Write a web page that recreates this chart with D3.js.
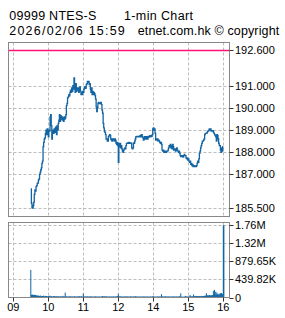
<!DOCTYPE html>
<html>
<head>
<meta charset="utf-8">
<script src="https://cdn.jsdelivr.net/npm/d3@7"></script>
<style>
  body { margin: 0; background: #fff; }
  text { font-family: "Liberation Sans", Arial, sans-serif; fill: #000; }
</style>
</head>
<body>
<svg id="chart" width="285" height="318"></svg>
<script>
// 1-min prices, 09:30-11:59 and 13:00-16:00
var amPrice = [
  186.35, 185.7, 185.5, 185.48, 185.6, 185.75, 186.1, 186.3, 186.25, 186.45,
  186.5, 186.6, 186.62, 186.75, 186.8, 187.0, 187.1, 187.2, 187.3, 187.5,
  187.6, 188.25, 188.45, 188.6, 188.65, 188.85, 189.0, 188.8, 189.05, 188.9,
  188.7, 189.0, 188.95, 189.6, 189.7, 189.2, 188.6, 188.9, 189.0, 188.85,
  189.05, 188.9, 189.1, 189.15, 188.8, 189.2, 189.0, 189.3, 189.45, 189.7,
  189.4, 189.65, 189.5, 189.6, 189.45, 189.55, 189.4, 189.6, 189.5, 189.55,
  189.7, 190.1, 190.2, 190.45, 190.5, 190.6, 190.55, 190.7, 190.8, 190.7,
  190.9, 190.75, 191.0, 190.85, 191.35, 191.0, 190.7, 191.1, 190.75, 190.9,
  190.8, 190.9, 190.7, 190.85, 190.95, 190.75, 190.6, 190.7, 190.6, 190.75,
  190.7, 190.85, 190.95, 190.88, 190.9, 191.05, 191.1, 191.2, 191.15, 191.2,
  191.05, 191.1, 190.85, 190.7, 190.9, 190.6, 190.75, 190.6, 190.7, 190.65,
  190.55, 190.4, 190.05, 189.83, 190.0, 190.2, 190.25, 190.2, 190.22, 190.2,
  190.25, 190.15, 189.9, 189.76, 189.3, 189.1, 188.95, 188.9, 188.8, 188.6,
  188.6, 188.5, 188.5, 188.7, 188.75, 188.8, 188.75, 188.6, 188.55, 188.5,
  188.6, 188.55, 188.6, 188.5, 188.6, 188.55, 188.4, 188.35, 188.45, 188.3
];
var pmPrice = [
  187.55, 188.4, 188.25, 188.4, 188.2, 188.3, 188.15, 188.05, 188.0, 188.1,
  188.15, 188.2, 188.15, 188.3, 188.4, 188.4, 188.42, 188.4, 188.45, 188.42,
  188.4, 188.42, 188.4, 188.2, 188.15, 188.2, 188.42, 188.4, 188.5, 188.6,
  188.7, 188.7, 188.72, 188.7, 188.7, 188.72, 188.7, 188.75, 188.7, 188.78,
  188.8, 188.7, 188.65, 188.55, 188.6, 188.7, 188.65, 188.6, 188.7, 188.65,
  188.6, 188.72, 188.68, 188.7, 188.75, 188.7, 188.75, 188.72, 188.8, 189.05,
  189.1, 189.0, 189.05, 188.85, 188.55, 188.6, 188.55, 188.6, 188.5, 188.55,
  188.5, 188.45, 188.4, 188.45, 188.35, 188.1, 188.05, 188.1, 188.0, 188.05,
  188.0, 188.05, 188.0, 188.05, 188.05, 188.1, 188.2, 188.3, 188.25, 188.35,
  188.2, 188.3, 188.15, 188.35, 188.25, 188.1, 188.15, 188.1, 188.05, 188.15,
  188.2, 188.1, 188.05, 188.0, 188.05, 187.95, 187.85, 187.8, 187.8, 187.85,
  187.8, 187.78, 187.85, 187.9, 187.85, 187.85, 187.75, 187.7, 187.75, 187.65,
  187.7, 187.6, 187.55, 187.6, 187.45, 187.5, 187.4, 187.45, 187.35, 187.4,
  187.35, 187.35, 187.38, 187.35, 187.4, 187.5, 187.6, 187.55, 187.7, 187.95,
  188.05, 188.2, 188.3, 188.4, 188.5, 188.5, 188.55, 188.6, 188.8, 188.85,
  188.85, 188.85, 188.9, 188.95, 188.95, 189.0, 189.05, 189.0, 189.05, 188.95,
  188.97, 188.95, 188.97, 188.9, 188.85, 188.8, 188.75, 188.7, 188.5, 188.8,
  188.75, 188.6, 188.4, 188.3, 188.3, 188.1, 188.0, 188.2, 188.05, 188.25,
  188.25
];
// volume in thousands of shares
var amVol = [
  673, 68, 62, 70, 58, 66, 64, 55, 60, 52,
  45, 50, 38, 48, 42, 35, 40, 47, 33, 28,
  36, 30, 45, 25, 32, 40, 28, 35, 22, 30,
  38, 26, 30, 45, 24, 28, 33, 20, 27, 31,
  25, 36, 22, 28, 30, 18, 26, 24, 32, 20,
  27, 22, 30, 18, 25, 40, 21, 26, 23, 120,
  30, 22, 28, 18, 26, 20, 24, 35, 19, 22,
  25, 17, 28, 20, 23, 30, 18, 24, 21, 26,
  20, 28, 22, 35, 19, 24, 20, 30, 25, 18,
  97, 30, 22, 18, 26, 20, 24, 28, 17, 22,
  25, 18, 30, 22, 20, 26, 17, 24, 21, 19,
  23, 28, 18, 22, 25, 16, 20, 27, 19, 22,
  18, 24, 20, 35, 26, 22, 30, 19, 25, 21,
  28, 20, 24, 18, 22, 26, 17, 23, 20, 25,
  19, 22, 27, 18, 24, 20, 26, 22, 30, 35
];
var pmVol = [
  90, 30, 25, 22, 28, 20, 26, 18, 24, 22,
  20, 25, 18, 30, 22, 19, 26, 21, 24, 17,
  22, 28, 19, 25, 20, 18, 24, 22, 26, 20,
  35, 18, 22, 20, 25, 17, 23, 19, 21, 24,
  18, 22, 20, 26, 19, 23, 17, 25, 20, 22,
  24, 18, 21, 19, 25, 20, 22, 18, 24, 30,
  26, 22, 20, 24, 18, 22, 19, 25, 21, 23,
  20, 24, 18, 26, 80, 30, 22, 25, 20, 24,
  22, 28, 19, 24, 21, 26, 20, 23, 25, 18,
  24, 20, 22, 26, 19, 25, 21, 23, 20, 22,
  25, 20, 22, 24, 21, 28, 21, 100, 20, 18,
  17, 20, 16, 22, 18, 40, 21, 25, 19, 22,
  24, 20, 22, 60, 25, 30, 22, 28, 24, 75,
  35, 30, 28, 40, 32, 36, 30, 38, 34, 30,
  36, 28, 40, 30, 35, 32, 38, 30, 42, 40,
  45, 105, 48, 50, 55, 45, 60, 52, 48, 55,
  50, 62, 58, 163, 65, 187, 68, 140, 72, 120,
  80, 75, 70, 95, 70, 105, 85, 110, 90, 80,
  1759.3
];
var prevClose = 192.6;
var priceTicks = [185.5, 187, 188, 189, 190, 191, 192.6];
var volTicks = [0, 439.82, 879.65, 1319.47, 1759.3];
var volTickLabels = ["0", "439.82K", "879.65K", "1.32M", "1.76M"];
var hourTicks = [9, 10, 11, 12, 14, 15, 16];
var hourLabels = ["09", "10", "11", "12", "14", "15", "16"];

// lunch break removed: 13:00 sits where 12:00 is
function tradeHour(h) { return h >= 13 ? h - 1 : h; }

var data = amPrice.map(function(p, i) {
  return { t: 9.5 + i / 60, price: p, vol: amVol[i] };
}).concat(pmPrice.map(function(p, j) {
  return { t: 12 + j / 60, price: p, vol: pmVol[j] };
}));

var svg = d3.select("#chart");
var lineColor = "#1264a3", frameColor = "#888", gridColor = "#bdbdbd";

var x = d3.scaleLinear().domain([9, 15]).range([13.3, 223.3]);
var y = d3.scaleLinear().domain([185.5, 192.6]).range([207.7, 50.3]);
var yv = d3.scaleLinear().domain([0, 1759.3]).range([297.5, 225.3]);

var main = { l: 8.5, r: 229.5, t: 42.5, b: 216.5 };
var vol = { l: 8.5, r: 229.5, t: 222.5, b: 297.5 };

// header
var header = [
  { s: "09999 NTES-S", x: 9.3, y: 19.5, w: 87 },
  { s: "1-min Chart", x: 124, y: 19.5, w: 69 },
  { s: "2026/02/06 15:59", x: 9.3, y: 35, w: 115.5 },
  { s: "etnet.com.hk \u00a9 copyright", x: 137.7, y: 35, w: 141.5 }
];
svg.selectAll(".hdr").data(header).enter().append("text")
  .attr("class", "hdr")
  .attr("x", function(d) { return d.x; })
  .attr("y", function(d) { return d.y; })
  .attr("textLength", function(d) { return d.w; })
  .style("font-size", "12.5px")
  .text(function(d) { return d.s; });

function grid(panel, yTicks, yScale) {
  var g = svg.append("g");
  g.selectAll(".vg").data(hourTicks).enter().append("line")
    .attr("x1", function(d) { return Math.round(x(tradeHour(d))) + 0.5; })
    .attr("x2", function(d) { return Math.round(x(tradeHour(d))) + 0.5; })
    .attr("y1", panel.t).attr("y2", panel.b)
    .attr("stroke", gridColor).attr("stroke-dasharray", "3,2");
  g.selectAll(".hg").data(yTicks).enter().append("line")
    .attr("x1", panel.l).attr("x2", panel.r)
    .attr("y1", function(d) { return Math.round(yScale(d)) + 0.5; })
    .attr("y2", function(d) { return Math.round(yScale(d)) + 0.5; })
    .attr("stroke", gridColor).attr("stroke-dasharray", "3,2");
}
grid(main, priceTicks.filter(function(d) { return d !== prevClose; }), y);
grid(vol, volTicks.slice(1), yv);

// previous close
svg.append("line")
  .attr("x1", main.l).attr("x2", main.r)
  .attr("y1", Math.round(y(prevClose)) + 0.5).attr("y2", Math.round(y(prevClose)) + 0.5)
  .attr("stroke", "#ff1177").attr("stroke-width", 1.3);

// price line
var line = d3.line()
  .x(function(d) { return x(d.t); })
  .y(function(d) { return y(d.price); })
  .curve(d3.curveStepAfter);
svg.append("path").datum(data)
  .attr("d", line)
  .attr("fill", "none")
  .attr("stroke", lineColor)
  .attr("stroke-width", 1.3);

// volume bars
svg.selectAll(".bar").data(data).enter().append("rect")
  .attr("class", "bar")
  .attr("x", function(d) { return x(d.t) - 0.5; })
  .attr("width", function(d, i) { return i === data.length - 1 ? 1.6 : 1; })
  .attr("y", function(d) { return yv(d.vol); })
  .attr("height", function(d) { return yv(0) - yv(d.vol); })
  .attr("fill", lineColor);

// frames
[main, vol].forEach(function(p) {
  svg.append("rect")
    .attr("x", p.l).attr("y", p.t)
    .attr("width", p.r - p.l).attr("height", p.b - p.t)
    .attr("fill", "none").attr("stroke", frameColor);
});

// price axis
var pa = svg.append("g");
pa.selectAll("line").data(priceTicks).enter().append("line")
  .attr("x1", main.r).attr("x2", main.r + 4)
  .attr("y1", function(d) { return Math.round(y(d)) + 0.5; })
  .attr("y2", function(d) { return Math.round(y(d)) + 0.5; })
  .attr("stroke", "#333");
pa.selectAll("text").data(priceTicks).enter().append("text")
  .attr("x", 235).attr("y", function(d) { return y(d) + 4; })
  .style("font-size", "11px")
  .text(function(d) { return d3.format(".3f")(d); });

// volume axis
var va = svg.append("g");
va.selectAll("line").data(volTicks).enter().append("line")
  .attr("x1", vol.r).attr("x2", vol.r + 4)
  .attr("y1", function(d) { return Math.round(yv(d)) + 0.5; })
  .attr("y2", function(d) { return Math.round(yv(d)) + 0.5; })
  .attr("stroke", "#333");
va.selectAll("text").data(volTicks).enter().append("text")
  .attr("x", 235).attr("y", function(d) { return yv(d) + 4; })
  .style("font-size", "11px")
  .text(function(d, i) { return volTickLabels[i]; });

// time axis
var ta = svg.append("g");
ta.selectAll("line").data(hourTicks).enter().append("line")
  .attr("x1", function(d) { return Math.round(x(tradeHour(d))) + 0.5; })
  .attr("x2", function(d) { return Math.round(x(tradeHour(d))) + 0.5; })
  .attr("y1", vol.b).attr("y2", vol.b + 4)
  .attr("stroke", "#333");
ta.selectAll("text").data(hourTicks).enter().append("text")
  .attr("x", function(d) { return x(tradeHour(d)); })
  .attr("y", 311)
  .attr("text-anchor", "middle")
  .style("font-size", "11px")
  .text(function(d, i) { return hourLabels[i]; });
</script>
</body>
</html>
